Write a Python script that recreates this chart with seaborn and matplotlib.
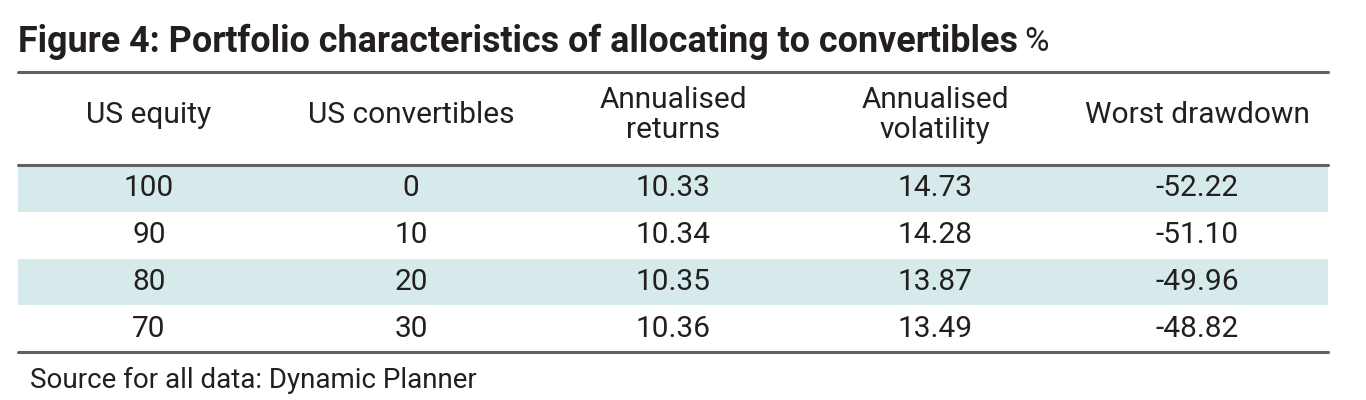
import numpy as np
import pandas as pd
import matplotlib.pyplot as plt
import seaborn as sns

sns.set_theme(style="white")
plt.rcParams['font.family'] = ['Roboto', 'DejaVu Sans']

columns = ["US equity", "US convertibles", "Annualised\nreturns", "Annualised\nvolatility", "Worst drawdown"]
us_equity = ["100", "90", "80", "70"]
us_convertibles = ["0", "10", "20", "30"]
ann_returns = ["10.33", "10.34", "10.35", "10.36"]
ann_volatility = ["14.73", "14.28", "13.87", "13.49"]
worst_drawdown = ["-52.22", "-51.10", "-49.96", "-48.82"]

labels = np.array([us_equity, us_convertibles, ann_returns, ann_volatility, worst_drawdown]).T
stripes = pd.DataFrame(np.tile([[1], [0], [1], [0]], (1, len(columns))), columns=columns)

W, H = 1366, 400
fig = plt.figure(figsize=(W / 100, H / 100), dpi=100)
left, right = 18 / W, 1328 / W
y_head_top, y_head_bot, y_tab_bot = 72, 165, 352
txt_col = "#231f20"
fs = 21.5

ax = fig.add_axes([left, 1 - y_tab_bot / H, right - left, (y_tab_bot - y_head_bot) / H])
sns.heatmap(stripes, ax=ax, cmap=["#ffffff", "#d7eaeb"], cbar=False, annot=labels, fmt="",
            annot_kws={"fontsize": fs, "color": txt_col}, xticklabels=False, yticklabels=False)
ax.set_xlabel("")
ax.set_ylabel("")

line_kw = dict(color="#5f6062", linewidth=2.2, transform=fig.transFigure, clip_on=False)
for yy in (y_head_top, y_head_bot, y_tab_bot):
    fig.add_artist(plt.Line2D([left, right], [1 - yy / H, 1 - yy / H], **line_kw))

col_w = (right - left) / len(columns)
for i, c in enumerate(columns):
    fig.text(left + (i + 0.5) * col_w, 1 - 115 / H, c,
             ha="center", va="center", fontsize=fs, color=txt_col, linespacing=1.1)

t = fig.text(18 / W, 1 - 42 / H, "Figure 4: Portfolio characteristics of allocating to convertibles",
             ha="left", va="center", fontsize=25.8, fontweight="bold", color=txt_col)
fig.canvas.draw()
bb = t.get_window_extent()
fig.text(bb.x1 / W + 6 / W, 1 - 42 / H, "%", ha="left", va="center", fontsize=24, color=txt_col)

fig.text(30 / W, 1 - 380 / H, "Source for all data: Dynamic Planner", ha="left", va="center",
         fontsize=20, color=txt_col)

fig.savefig("out.png", dpi=100)
